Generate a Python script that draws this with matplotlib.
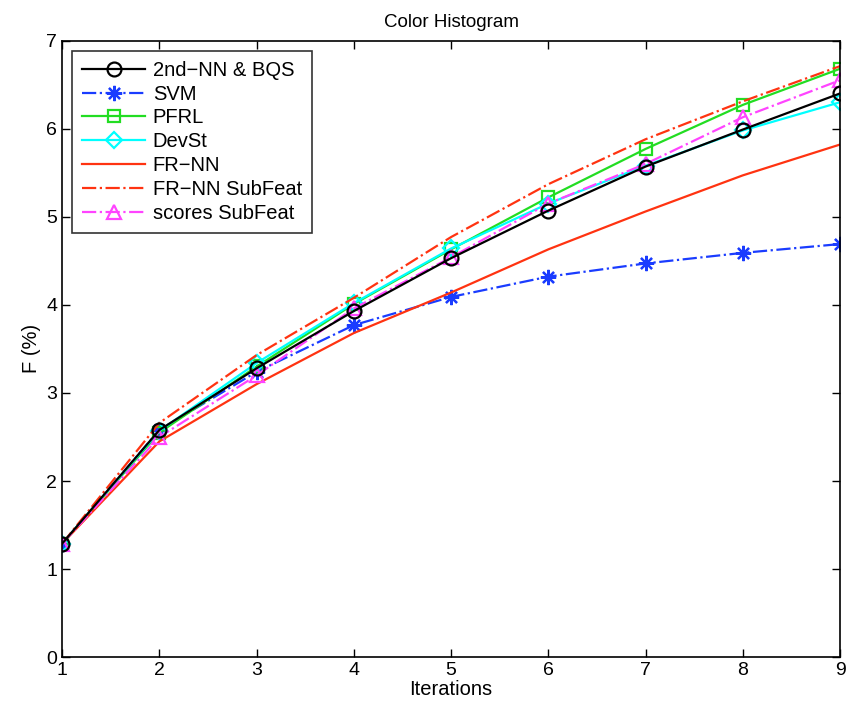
import matplotlib
matplotlib.use('Agg')
import matplotlib.pyplot as plt
import numpy as np

plt.rcParams['font.family'] = ['Liberation Sans', 'DejaVu Sans']

iterations = [1, 2, 3, 4, 5, 6, 7, 8, 9]

nn_bqs = [1.29, 2.58, 3.28, 3.93, 4.53, 5.07, 5.57, 5.99, 6.40]
svm = [1.29, 2.58, 3.24, 3.77, 4.09, 4.32, 4.47, 4.59, 4.69]
pfrl = [1.29, 2.55, 3.30, 4.01, 4.63, 5.22, 5.77, 6.27, 6.68]
devst = [1.29, 2.57, 3.34, 4.02, 4.64, 5.15, 5.58, 5.98, 6.30]
fr_nn = [1.29, 2.45, 3.10, 3.68, 4.14, 4.63, 5.06, 5.47, 5.82]
fr_nn_sub = [1.29, 2.66, 3.43, 4.08, 4.77, 5.37, 5.88, 6.31, 6.71]
scores_sub = [1.29, 2.50, 3.20, 3.96, 4.54, 5.15, 5.60, 6.13, 6.55]

fig = plt.figure(figsize=(8.52, 7.12), dpi=100)
ax = fig.add_axes([0.073, 0.077, 0.913, 0.866])

lw = 1.6
ax.plot(iterations, nn_bqs, '-', color='black', marker='o', ms=10, mfc='none', mew=1.6, lw=lw, label='2nd\u2212NN & BQS', zorder=5)
ax.plot(iterations, svm, '-.', color='#1a3cff', marker=(8, 2, 0), ms=11, mew=1.6, lw=lw, label='SVM')
ax.plot(iterations, pfrl, '-', color='#22dd22', marker='s', ms=9, mfc='none', mew=1.6, lw=lw, label='PFRL')
ax.plot(iterations, devst, '-', color='#00ffff', marker='D', ms=8, mfc='none', mew=1.6, lw=lw, label='DevSt')
ax.plot(iterations, fr_nn, '-', color='#ff3311', lw=lw, label='FR\u2212NN')
ax.plot(iterations, fr_nn_sub, '-.', color='#ff3311', lw=lw, label='FR\u2212NN SubFeat')
ax.plot(iterations, scores_sub, '-.', color='#ff44ff', marker='^', ms=10, mfc='none', mew=1.6, lw=lw, label='scores SubFeat')

ax.set_xlim(1, 9)
ax.set_ylim(0, 7)
ax.set_xticks(iterations)
ax.set_yticks(range(0, 8))
ax.tick_params(direction='in', top=True, right=True, labelsize=14, length=6, width=1)
for s in ax.spines.values():
    s.set_linewidth(1.2)

ax.set_title('Color Histogram', fontsize=13.5, pad=10)
ax.set_xlabel('Iterations', fontsize=14.5, labelpad=1)
ax.set_ylabel('F (%)', fontsize=14.5)

leg = ax.legend(loc='upper left', fontsize=14.5, handlelength=3.1, handletextpad=0.4, frameon=True, fancybox=False,
                edgecolor='black', borderaxespad=0.5, labelspacing=0.24, borderpad=0.5)
leg.get_frame().set_linewidth(1.2)

fig.savefig('out.png', dpi=100)
